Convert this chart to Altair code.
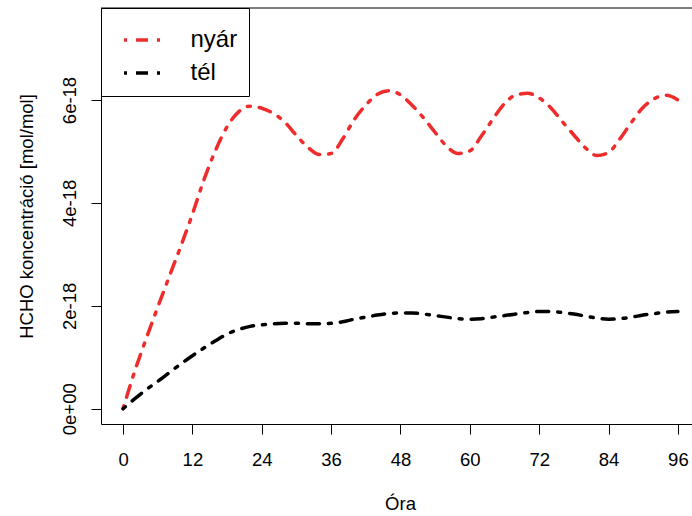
import altair as alt
import pandas as pd

hours = [0, 2, 4, 6, 8, 10, 12, 14, 16, 18, 20, 22, 24, 26, 28, 30, 32, 34, 36, 38,
         40, 42, 44, 46, 48, 50, 52, 54, 56, 58, 60, 62, 64, 66, 68, 70, 72, 74, 76,
         78, 80, 82, 84, 86, 88, 90, 92, 94, 96]

# values in units of 1e-18 mol/mol
nyar_e18 = [0, 0.72, 1.36, 1.97, 2.57, 3.16, 3.78, 4.45, 5.02, 5.48, 5.77, 5.88, 5.84,
            5.74, 5.57, 5.31, 5.08, 4.94, 4.96, 5.24, 5.62, 5.90, 6.11, 6.18, 6.10,
            5.90, 5.65, 5.37, 5.10, 4.96, 5.01, 5.30, 5.63, 5.93, 6.10, 6.13, 6.04,
            5.85, 5.58, 5.32, 5.07, 4.92, 4.98, 5.25, 5.57, 5.86, 6.03, 6.09, 6.00]

tel_e18 = [0, 0.19, 0.37, 0.53, 0.70, 0.87, 1.03, 1.18, 1.32, 1.45, 1.54, 1.60, 1.63,
           1.65, 1.66, 1.66, 1.65, 1.65, 1.66, 1.69, 1.74, 1.78, 1.82, 1.85, 1.86,
           1.86, 1.84, 1.81, 1.78, 1.75, 1.74, 1.75, 1.78, 1.81, 1.84, 1.87, 1.89,
           1.89, 1.87, 1.84, 1.80, 1.76, 1.74, 1.75, 1.78, 1.82, 1.85, 1.88, 1.89]

series_names = ["nyár", "tél"]
series_colors = ["#EE2C2C", "#000000"]
x_ticks = [0, 12, 24, 36, 48, 60, 72, 84, 96]
y_ticks = [0, 2e-18, 4e-18, 6e-18]

rows = []
for name, vals in zip(series_names, [nyar_e18, tel_e18]):
    for h, v in zip(hours, vals):
        rows.append({"ora": h, "konc": v * 1e-18, "sorozat": name})
df = pd.DataFrame(rows)

FONT = "Liberation Sans"
W, H = 591, 416
DASH = [3, 9, 12, 9]

lines = alt.Chart(df).mark_line(
    strokeWidth=3.5, strokeDash=DASH, strokeCap="round", interpolate="monotone"
).encode(
    x=alt.X("ora:Q",
            scale=alt.Scale(domain=[-3.81, 98.44], nice=False, zero=False),
            axis=alt.Axis(values=x_ticks, title="Óra", grid=False,
                          tickSize=10, labelPadding=31, labelBaseline="alphabetic",
                          labelFontSize=18.5, titleFontSize=18.5,
                          titleX=299, titleY=85, titleBaseline="alphabetic",
                          titleAnchor="middle", titleAlign="center",
                          labelFlush=False)),
    y=alt.Y("konc:Q",
            scale=alt.Scale(domain=[-0.297e-18, 7.788e-18], nice=False, zero=False),
            axis=alt.Axis(values=y_ticks, title="HCHO koncentráció [mol/mol]",
                          grid=False, tickSize=10, labelAngle=270,
                          labelAlign="center", labelBaseline="alphabetic",
                          labelPadding=16, labelFontSize=18.5,
                          labelExpr="datum.value == 0 ? '0e+00' : format(datum.value, '.0e')",
                          titleFontSize=18.5, titleAngle=270, titleX=-69, titleY=208,
                          titleBaseline="alphabetic", titleAlign="center",
                          labelFlush=False)),
    color=alt.Color("sorozat:N",
                    scale=alt.Scale(domain=series_names, range=series_colors),
                    legend=alt.Legend(title=None, orient="none", legendX=0, legendY=0,
                                      symbolType="M-1.184,0H1.184", symbolSize=1444,
                                      symbolStrokeWidth=3.5, symbolDash=DASH,
                                      symbolOffset=13.5,
                                      labelFontSize=24, labelFont=FONT,
                                      labelColor="black", labelOffset=23,
                                      padding=11, rowPadding=-9,
                                      strokeColor="black", fillColor="white",
                                      cornerRadius=0)),
    order=alt.Order("ora:Q"),
)

top_border = alt.Chart(pd.DataFrame({"k": [0]})).mark_rule(color="black", strokeWidth=1).encode(
    y=alt.value(0), x=alt.value(0), x2=alt.value(W)
)

chart = alt.layer(lines, top_border).properties(
    width=W, height=H,
    autosize=alt.AutoSizeParams(type="none"),
    padding={"left": 101, "top": 8, "right": 0, "bottom": 92},
).configure_view(stroke=None).configure_axis(
    labelFont=FONT, titleFont=FONT, labelColor="black", titleColor="black",
    domainColor="black", tickColor="black", titleFontWeight="normal",
    domainWidth=1, tickWidth=1
)

chart.save("out.html", embed_options={"renderer": "svg", "actions": False})
